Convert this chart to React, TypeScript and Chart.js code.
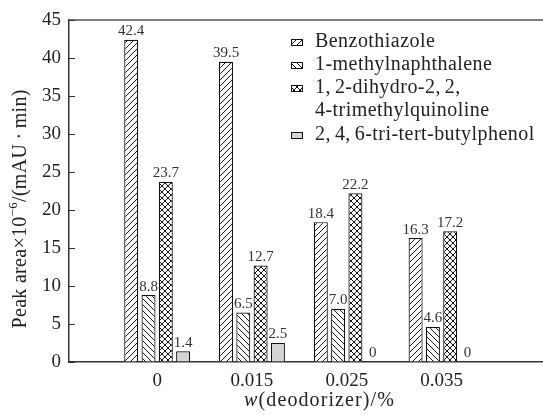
import React, { useEffect, useRef } from 'react';
import { Chart, registerables } from 'chart.js';

Chart.register(...registerables);

const categories = ['0', '0.015', '0.025', '0.035'];
const seriesNames = ['Benzothiazole', '1-methylnaphthalene', '1,2-dihydro-2,2,', '2,4,6-tri-tert-butylphenol'];
const seriesNameExtra = ['', '', '4-trimethylquinoline', ''];
const benzothiazole = [42.4, 39.5, 18.4, 16.3];
const methylnaphthalene = [8.8, 6.5, 7.0, 4.6];
const trimethylquinoline = [23.7, 12.7, 22.2, 17.2];
const butylphenol = [1.4, 2.5, 0, 0];
const yMin = 0;
const yMax = 45;
const yStep = 5;

const SERIF = '"Liberation Serif", "Times New Roman", serif';
const TEXT = '#222';

type Kind = 'fwd' | 'back' | 'cross' | 'solid';
const kinds: Kind[] = ['fwd', 'back', 'cross', 'solid'];

function makeFill(kind: Kind): CanvasPattern | string {
  if (kind === 'solid') return '#d4d4d4';
  const s = 6;
  const c = document.createElement('canvas');
  c.width = s;
  c.height = s;
  const g = c.getContext('2d')!;
  g.fillStyle = '#fff';
  g.fillRect(0, 0, s, s);
  g.strokeStyle = '#111';
  g.lineWidth = 1;
  const fwd = () => {
    g.beginPath();
    g.moveTo(-1, s + 1); g.lineTo(s + 1, -1);
    g.moveTo(-1, 1); g.lineTo(1, -1);
    g.moveTo(s - 1, s + 1); g.lineTo(s + 1, s - 1);
    g.stroke();
  };
  const back = () => {
    g.beginPath();
    g.moveTo(-1, -1); g.lineTo(s + 1, s + 1);
    g.moveTo(-1, s - 1); g.lineTo(1, s + 1);
    g.moveTo(s - 1, -1); g.lineTo(s + 1, 1);
    g.stroke();
  };
  if (kind === 'fwd') fwd();
  if (kind === 'back') back();
  if (kind === 'cross') { fwd(); back(); }
  return g.createPattern(c, 'repeat')!;
}

type Run = { text: string; font: string; dy?: number };

function runsWidth(ctx: CanvasRenderingContext2D, runs: Run[], spacing: number, commaExtra: number) {
  let w = 0;
  runs.forEach((r) => {
    ctx.font = r.font;
    for (const ch of r.text) {
      w += ctx.measureText(ch).width + spacing + (ch === ',' ? commaExtra : 0);
    }
  });
  return w - spacing;
}
function drawRuns(ctx: CanvasRenderingContext2D, runs: Run[], x: number, y: number, spacing: number, commaExtra: number) {
  let px = x;
  runs.forEach((r) => {
    ctx.font = r.font;
    for (const ch of r.text) {
      ctx.fillText(ch, px, y + (r.dy || 0));
      px += ctx.measureText(ch).width + spacing + (ch === ',' ? commaExtra : 0);
    }
  });
}

export default function App() {
  const ref = useRef<HTMLCanvasElement | null>(null);

  useEffect(() => {
    document.body.style.margin = '0';
    const canvas = ref.current!;
    const fills = kinds.map(makeFill);
    const seriesValues = [benzothiazole, methylnaphthalene, trimethylquinoline, butylphenol];

    const datasets = seriesValues.map((vals, si) => ({
      label: seriesNames[si],
      data: vals.map((v, i) => ({ x: i, y: v })),
      backgroundColor: fills[si] as any,
      borderColor: '#111',
      borderWidth: 1.2,
      borderSkipped: 'bottom' as const,
      categoryPercentage: 0.73,
      barPercentage: 0.81,
    }));

    const labelsPlugin = {
      id: 'valueLabels',
      afterDatasetsDraw(chart: any) {
        const ctx = chart.ctx;
        ctx.save();
        ctx.font = `15px ${SERIF}`;
        ctx.fillStyle = '#333';
        ctx.textAlign = 'center';
        ctx.textBaseline = 'bottom';
        chart.data.datasets.forEach((ds: any, di: number) => {
          const meta = chart.getDatasetMeta(di);
          meta.data.forEach((el: any, i: number) => {
            const v = ds.data[i].y;
            const txt = v === 0 ? '0' : v.toFixed(1);
            ctx.fillText(txt, el.x, el.y - 1);
          });
        });
        ctx.restore();
      },
    };

    const decorPlugin = {
      id: 'decor',
      afterDraw(chart: any) {
        const ctx = chart.ctx as CanvasRenderingContext2D;
        const a = chart.chartArea;
        ctx.save();
        ctx.strokeStyle = '#555';
        ctx.lineWidth = 1.5;
        ctx.beginPath();
        ctx.moveTo(a.left, a.top);
        ctx.lineTo(a.right, a.top);
        ctx.stroke();

        const ys = chart.scales.y;
        ctx.strokeStyle = '#333';
        ctx.lineWidth = 1;
        ctx.beginPath();
        ys.ticks.forEach((t: any) => {
          const py = Math.round(ys.getPixelForValue(t.value)) + 0.5;
          ctx.moveTo(a.left, py);
          ctx.lineTo(a.left + 6, py);
        });
        ctx.stroke();

        const rows = [42, 65, 88, 135];
        const lf = `20px ${SERIF}`;
        ctx.textBaseline = 'middle';
        ctx.textAlign = 'left';
        rows.forEach((y, i) => {
          ctx.fillStyle = fills[i] as any;
          ctx.fillRect(291, y - 3, 12, 7);
          ctx.strokeStyle = '#111';
          ctx.lineWidth = 1;
          ctx.strokeRect(291.5, y - 2.5, 11, 6);
          ctx.fillStyle = TEXT;
          drawRuns(ctx, [{ text: seriesNames[i], font: lf }], 315, y, 0.45, 4);
          if (seriesNameExtra[i]) drawRuns(ctx, [{ text: seriesNameExtra[i], font: lf }], 315, y + 23, 0.45, 4);
        });

        const xr: Run[] = [
          { text: 'w', font: `italic 20px ${SERIF}` },
          { text: '(deodorizer)/%', font: `20px ${SERIF}` },
        ];
        const xw = runsWidth(ctx, xr, 1.1, 0);
        drawRuns(ctx, xr, 319 - xw / 2, 401, 1.1, 0);

        const yr: Run[] = [
          { text: 'Peak area\u00d710', font: `20px ${SERIF}` },
          { text: '\u22126', font: `13px ${SERIF}`, dy: -7 },
          { text: '/(mAU\u2009\u00b7\u2009min)', font: `20px ${SERIF}` },
        ];
        const yw = runsWidth(ctx, yr, 0.3, 0);
        ctx.translate(21, 209);
        ctx.rotate(-Math.PI / 2);
        drawRuns(ctx, yr, -yw / 2, 0, 0.3, 0);
        ctx.restore();
      },
    };

    const chart = new Chart(canvas, {
      type: 'bar',
      data: { datasets: datasets as any },
      plugins: [labelsPlugin, decorPlugin],
      options: {
        animation: false,
        responsive: false,
        devicePixelRatio: 1,
        layout: { padding: { top: 20, right: 0, left: 0, bottom: 0 } },
        plugins: {
          legend: { display: false },
          tooltip: { enabled: false },
          title: { display: false },
        },
        scales: {
          x: {
            type: 'linear',
            min: -0.93,
            max: 4.07,
            offset: false,
            grid: { display: false, drawTicks: false, offset: false },
            border: { display: true, color: '#333', width: 1.5 },
            afterBuildTicks: (scale: any) => {
              scale.ticks = categories.map((_, i) => ({ value: i }));
            },
            afterFit: (scale: any) => { scale.height = 53; },
            ticks: {
              autoSkip: false,
              maxRotation: 0,
              padding: 8,
              color: TEXT,
              font: { family: SERIF, size: 19 },
              callback: (v: any) => categories[v as number] ?? '',
            },
          },
          y: {
            min: yMin,
            max: yMax,
            afterFit: (scale: any) => { scale.width = 69; },
            grid: { drawOnChartArea: false, drawTicks: false },
            border: { display: true, color: '#333', width: 1.5 },
            ticks: {
              stepSize: yStep,
              padding: 8,
              color: TEXT,
              font: { family: SERIF, size: 19 },
            },
          },
        },
      } as any,
    });
    return () => chart.destroy();
  }, []);

  return (
    <div style={{ width: 543, height: 415 }}>
      <canvas ref={ref} width={543} height={415} />
    </div>
  );
}
